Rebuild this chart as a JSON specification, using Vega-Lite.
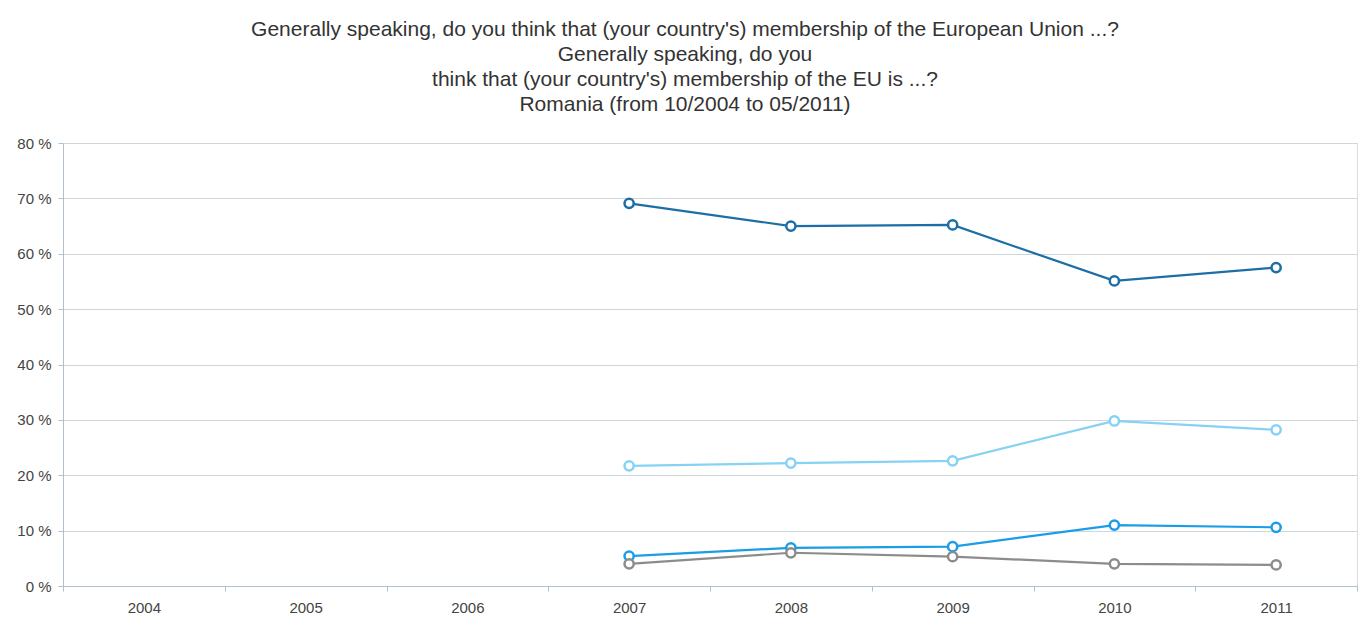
{
  "$schema": "https://vega.github.io/schema/vega-lite/v6.json",
  "autosize": {"type": "none"},
  "width": 1294,
  "height": 443,
  "padding": {"left": 63, "top": 143, "right": 9, "bottom": 33},
  "background": "white",
  "title": {
    "text": ["Generally speaking, do you think that (your country's) membership of the European Union ...?", "Generally speaking, do you", "think that (your country's) membership of the EU is ...?", "Romania (from 10/2004 to 05/2011)"],
    "anchor": "middle",
    "frame": "group",
    "dx": -25,
    "offset": 21,
    "font": "Liberation Sans",
    "fontSize": 21,
    "fontWeight": "normal",
    "color": "#333333",
    "lineHeight": 25
  },
  "data": {
    "values": [
      {"year": "2007", "answer": "A good thing", "value": 69.1},
      {"year": "2008", "answer": "A good thing", "value": 65.0},
      {"year": "2009", "answer": "A good thing", "value": 65.2},
      {"year": "2010", "answer": "A good thing", "value": 55.1},
      {"year": "2011", "answer": "A good thing", "value": 57.5},
      {"year": "2007", "answer": "Neither good nor bad", "value": 21.7},
      {"year": "2008", "answer": "Neither good nor bad", "value": 22.2},
      {"year": "2009", "answer": "Neither good nor bad", "value": 22.6},
      {"year": "2010", "answer": "Neither good nor bad", "value": 29.8},
      {"year": "2011", "answer": "Neither good nor bad", "value": 28.2},
      {"year": "2007", "answer": "A bad thing", "value": 5.4},
      {"year": "2008", "answer": "A bad thing", "value": 6.9},
      {"year": "2009", "answer": "A bad thing", "value": 7.1},
      {"year": "2010", "answer": "A bad thing", "value": 11.0},
      {"year": "2011", "answer": "A bad thing", "value": 10.6},
      {"year": "2007", "answer": "DK", "value": 4.0},
      {"year": "2008", "answer": "DK", "value": 6.0},
      {"year": "2009", "answer": "DK", "value": 5.3},
      {"year": "2010", "answer": "DK", "value": 4.0},
      {"year": "2011", "answer": "DK", "value": 3.8}
    ]
  },
  "encoding": {
    "x": {
      "field": "year",
      "type": "ordinal",
      "scale": {"domain": ["2004", "2005", "2006", "2007", "2008", "2009", "2010", "2011"], "paddingInner": 0, "paddingOuter": 0},
      "axis": {
        "title": null,
        "labelAngle": 0,
        "tickBand": "extent",
        "tickSize": 5,
        "tickColor": "#b0c0cc",
        "domainColor": "#b0c0cc",
        "labelFont": "Liberation Sans",
        "labelFontSize": 15,
        "labelColor": "#444444",
        "labelPadding": 9,
        "grid": false
      }
    },
    "y": {
      "field": "value",
      "type": "quantitative",
      "scale": {"domain": [0, 80]},
      "axis": {
        "title": null,
        "values": [0, 10, 20, 30, 40, 50, 60, 70, 80],
        "labelExpr": "datum.value + ' %'",
        "tickSize": 5,
        "tickColor": "#b0c0cc",
        "domainColor": "#b0c0cc",
        "gridColor": "#ccd6dd",
        "labelFont": "Liberation Sans",
        "labelFontSize": 15,
        "labelColor": "#444444",
        "labelPadding": 7
      }
    },
    "color": {
      "field": "answer",
      "type": "nominal",
      "scale": {
        "domain": ["A good thing", "Neither good nor bad", "A bad thing", "DK"],
        "range": ["#1c6ea6", "#86d2f4", "#1a9de6", "#8c8c8c"]
      },
      "legend": null
    }
  },
  "layer": [
    {"mark": {"type": "line", "strokeWidth": 2.2}},
    {"mark": {"type": "point", "shape": "circle", "filled": false, "fill": "white", "fillOpacity": 1, "opacity": 1, "size": 85, "strokeWidth": 2.5}}
  ]
}
